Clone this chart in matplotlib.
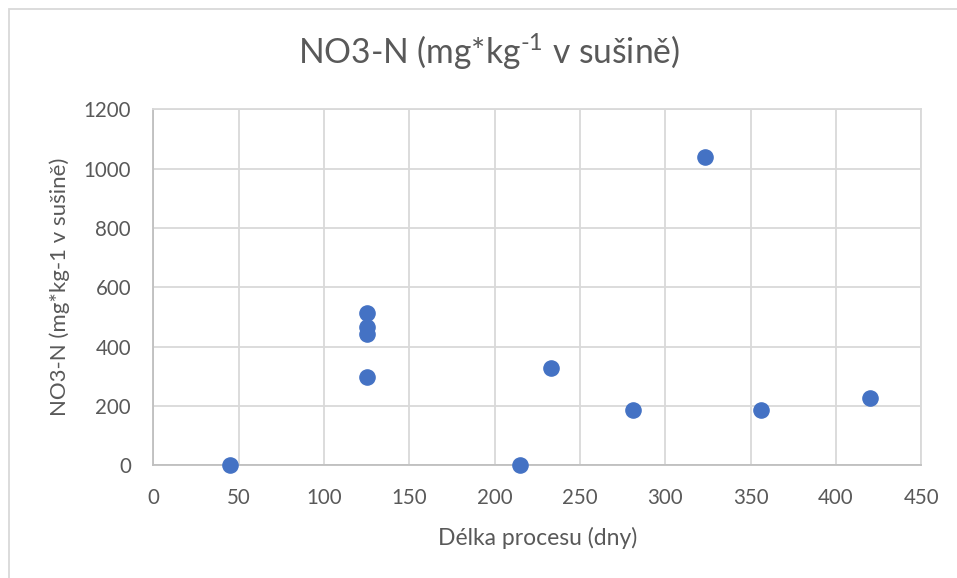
import matplotlib
matplotlib.use("Agg")
import matplotlib.pyplot as plt
from matplotlib.patches import Rectangle

# data
delka_dny = [45, 125, 125, 125, 125, 215, 233, 281, 323, 356, 420]
no3_n = [0, 512, 467, 443, 297, 0, 327, 187, 1038, 187, 226]

x_ticks = [0, 50, 100, 150, 200, 250, 300, 350, 400, 450]
y_ticks = [0, 200, 400, 600, 800, 1000, 1200]

plt.rcParams['font.family'] = ['Lato', 'DejaVu Sans']
plt.rcParams['mathtext.fontset'] = 'custom'
plt.rcParams['mathtext.rm'] = 'Lato'

seda_text = '#595959'
seda_mrizka = '#d9d9d9'
modra = '#4472C4'

fig = plt.figure(figsize=(9.57, 5.78), dpi=100)
ax = fig.add_axes([153.3 / 957, 1 - 465.3 / 578, 768 / 957, 356 / 578])

# chart frame like in Excel
fig.patches.append(Rectangle((9 / 957, -0.1), 1.2, (578 - 9) / 578 + 0.1,
                             transform=fig.transFigure, fill=False,
                             edgecolor=seda_mrizka, linewidth=1.3))

ax.scatter(delka_dny, no3_n, s=120, color=modra, zorder=3, clip_on=False)

ax.set_xlim(0, 450)
ax.set_ylim(0, 1200)
ax.set_xticks(x_ticks)
ax.set_yticks(y_ticks)
ax.grid(True, color=seda_mrizka, linewidth=1.3)
ax.set_axisbelow(True)
for s in ax.spines.values():
    s.set_color(seda_mrizka)
    s.set_linewidth(1.3)
ax.spines['left'].set_color('#bfbfbf')
ax.spines['bottom'].set_color('#bfbfbf')
ax.tick_params(length=0, labelsize=14.8, labelcolor=seda_text, pad=16)

ax.set_xlabel('Délka procesu (dny)', fontsize=16.5, color=seda_text, labelpad=14)
ax.set_ylabel('NO3-N (mg*kg-1 v sušině)', fontsize=16, color=seda_text, labelpad=10)

fig.text(489 / 957, 1 - 52 / 578, r'NO3-N (mg*kg$^{\text{-1}}$ v sušině)',
         ha='center', va='center', fontsize=24.2, color=seda_text)

fig.savefig('out.png', dpi=100)
